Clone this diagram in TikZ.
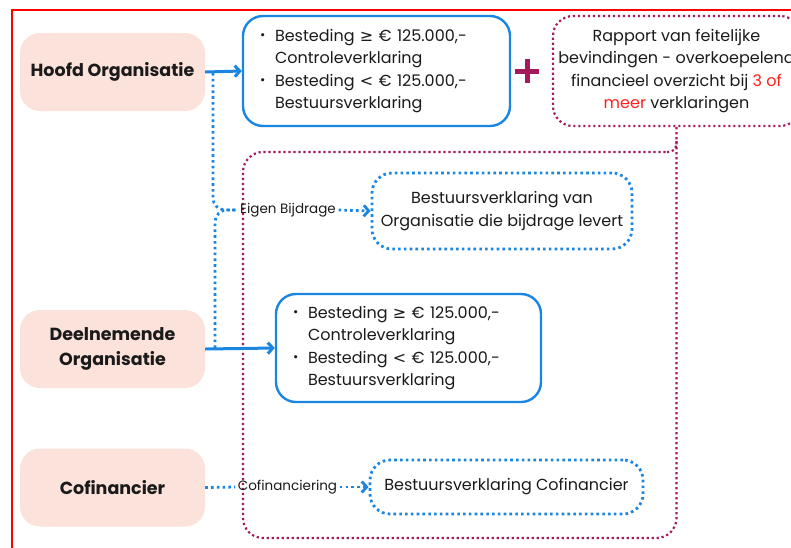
\documentclass[tikz,border=0pt]{standalone}
\usepackage{fontspec}
\setmainfont{Poppins}
\newfontfamily\symfont{DejaVu Sans}
\usetikzlibrary{arrows.meta}
\definecolor{orgfill}{HTML}{FBE2DA}
\definecolor{flowblue}{HTML}{1A86E2}
\definecolor{plum}{HTML}{A3195B}
\definecolor{alertred}{HTML}{FF1F1F}
\definecolor{framered}{HTML}{FF0000}
\definecolor{ink}{HTML}{1A1A1A}
\newcommand{\bul}{\makebox[15pt][l]{\raisebox{0.2ex}{\scalebox{0.8}{\textbullet}}}}
\newcommand{\ind}{\hspace*{15pt}}
\begin{document}
\begin{tikzpicture}[x=1pt,y=-1pt,
  every node/.style={text=ink},
  body/.style={font=\fontsize{16}{22.5}\selectfont},
  org/.style={rectangle, rounded corners=20pt, fill=orgfill, minimum width=185pt,
    minimum height=78pt, align=center, font=\fontsize{17.5}{25}\selectfont\bfseries},
  solidbox/.style={rectangle, rounded corners=20pt, draw=flowblue, line width=2.4pt,
    align=left, body, inner xsep=17pt},
  bluedot/.style={draw=flowblue, line width=2.8pt, dash pattern=on 2.6pt off 3.2pt},
  dotbox/.style={rectangle, rounded corners=20pt, bluedot, align=center, body},
  plumdot/.style={draw=plum, line width=2.2pt, dash pattern=on 2.2pt off 2.8pt},
  flowlabel/.style={font=\fontsize{13.5}{16}\selectfont, inner sep=2.5pt},
  tip/.style={-{Straight Barb[length=5pt,width=11pt]}},
  bluearrow/.style={draw=flowblue, line width=3pt, tip}
]
\useasboundingbox (0,0) rectangle (791,547);

% outer frame (only its top and left sides fall inside the page)
\draw[framered, line width=1.6pt] (12,560) -- (12,10) -- (800,10);

% organisations
\node[org] (hoofd) at (112.5,72) {Hoofd Organisatie};
\node[org] (deeln) at (112.5,349) {Deelnemende\\Organisatie};
\node[org] (cofin) at (112.5,487.5) {Cofinancier};

% statements of the main organisation
\node[solidbox, minimum width=267pt, minimum height=110pt, text width=233pt] (box1) at (376.5,71)
  {\bul Besteding {\symfont≥} € 125.000,-\\\ind Controleverklaring\\
   \bul Besteding {\symfont<} € 125.000,-\\\ind Bestuursverklaring};

% plus sign
\node[inner sep=0pt, minimum size=24pt] (plus) at (527,71) {};
\draw[plum, line width=5pt] (plus.west) -- (plus.east) (plus.north) -- (plus.south);

% overarching report
\node[rectangle, rounded corners=20pt, plumdot, minimum width=247pt, minimum height=110pt,
  align=center, body] (rapport) at (676.5,71)
  {Rapport van feitelijke\\bevindingen - overkoepelend\\financieel overzicht bij \textcolor{alertred}{3 of}\\\textcolor{alertred}{meer} verklaringen};

% group of statements covered by the report
\draw[plumdot, rounded corners=20pt] (rapport.south) -- (rapport.south |- 0,538) -- (243,538) -- (243,152) -- (667,152);
\draw[plumdot] (667,152) .. controls (674,152) and (676.5,149) .. (676.5,141);

% own contribution
\node[dotbox, minimum width=260pt, minimum height=76pt] (box2) at (502,211)
  {Bestuursverklaring van\\Organisatie die bijdrage levert};
\node[flowlabel] (eigen) at (288,210) {Eigen Bijdrage};

% statements of the participating organisation
\node[solidbox, minimum width=265pt, minimum height=108pt, text width=231pt] (box3) at (408.5,348)
  {\bul Besteding {\symfont≥} € 125.000,-\\\ind Controleverklaring\\
   \bul Besteding {\symfont<} € 125.000,-\\\ind Bestuursverklaring};

% co-financing
\node[dotbox, minimum width=273pt, minimum height=54pt] (box4) at (506.5,487)
  {Bestuursverklaring Cofinancier};
\node[flowlabel] (cofinlbl) at (287.5,487) {Cofinanciering};

% connectors
\coordinate (hsplit) at (213,73);
\coordinate (dsplit) at (215,348);
\draw[bluedot, rounded corners=12pt] (hsplit) -- (hsplit |- eigen.west) -- (eigen.west);
\draw[bluedot, rounded corners=12pt] (dsplit) -- (dsplit |- eigen.west) -- (eigen.west);
\draw[bluedot, tip] (eigen.east) -- (box2.west);
\draw[bluedot] (cofin.east) -- (cofinlbl.west);
\draw[bluedot, tip] (cofinlbl.east) -- (box4.west);
\draw[bluearrow] (hoofd.east) -- (box1.west);
\draw[bluearrow] (deeln.east) -- (box3.west);
\end{tikzpicture}
\end{document}
